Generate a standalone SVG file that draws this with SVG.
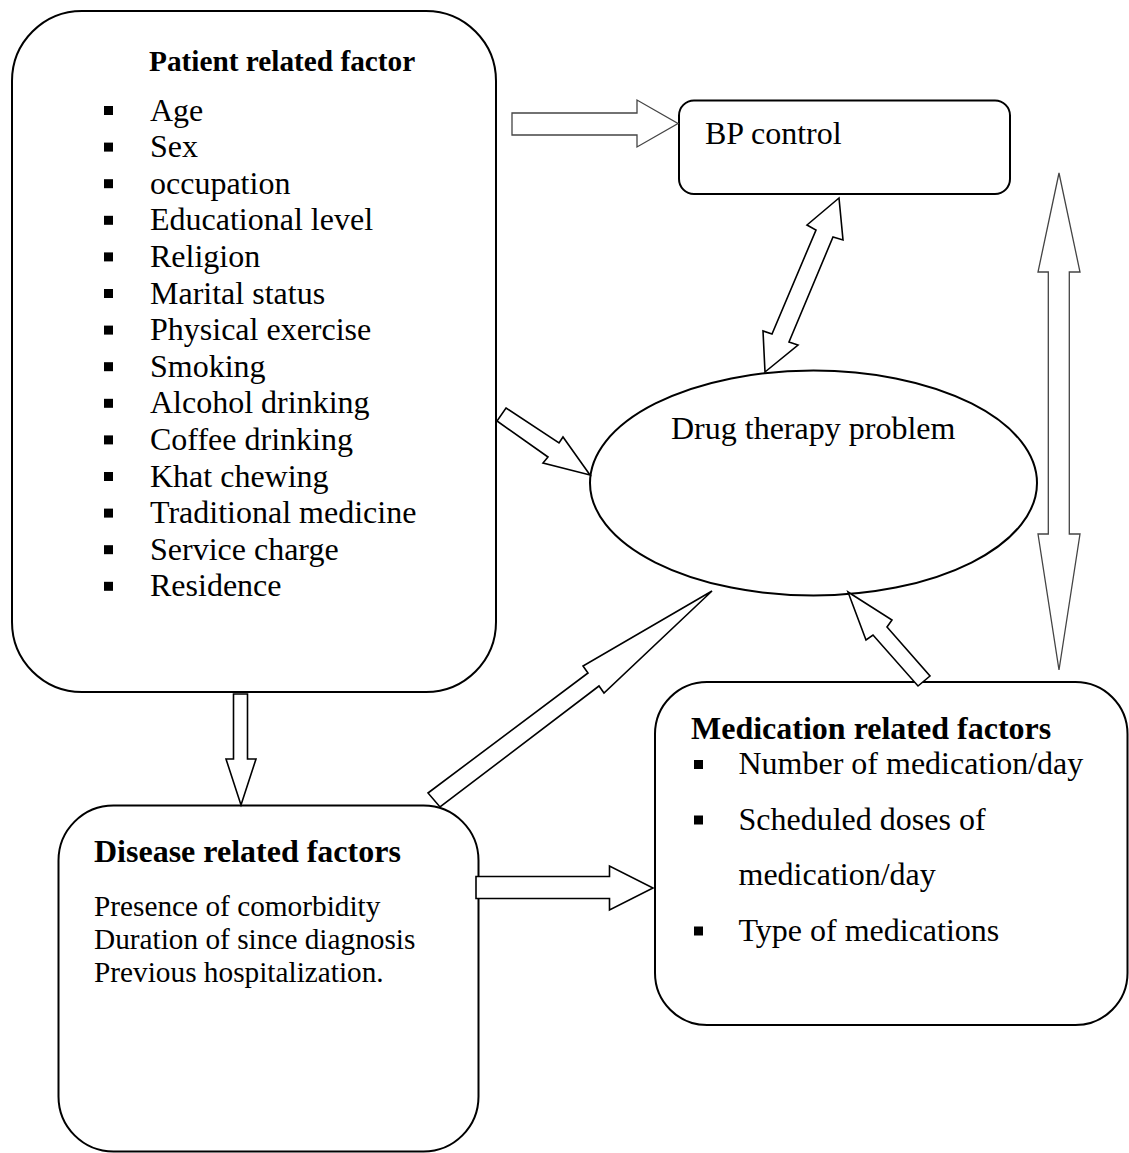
<svg xmlns="http://www.w3.org/2000/svg" width="1129" height="1153" viewBox="0 0 1129 1153">
<style>
.box{fill:#fff;stroke:#000;stroke-width:2}
.arr{fill:#fff;stroke:#000;stroke-width:1.6;stroke-linejoin:miter}
.arrg{fill:#fff;stroke:#444;stroke-width:1.3;stroke-linejoin:miter}
.t{font-family:"Liberation Serif","Times New Roman",serif;fill:#000}
.b{font-weight:bold}
.s32{font-size:32px}
.s29{font-size:29.3px}
.bul{fill:#000}
</style>
<rect width="1129" height="1153" fill="#fff"/>
<g id="patient">
<rect class="box" x="12" y="11" width="484" height="681" rx="70" ry="70"/>
<text class="t b s29" x="149" y="71">Patient related factor</text>
<g class="bul">
<rect x="104" y="106" width="9" height="9"/>
<rect x="104" y="142.6" width="9" height="9"/>
<rect x="104" y="179.2" width="9" height="9"/>
<rect x="104" y="215.8" width="9" height="9"/>
<rect x="104" y="252.4" width="9" height="9"/>
<rect x="104" y="289" width="9" height="9"/>
<rect x="104" y="325.6" width="9" height="9"/>
<rect x="104" y="362.2" width="9" height="9"/>
<rect x="104" y="398.8" width="9" height="9"/>
<rect x="104" y="435.4" width="9" height="9"/>
<rect x="104" y="472" width="9" height="9"/>
<rect x="104" y="508.6" width="9" height="9"/>
<rect x="104" y="545.2" width="9" height="9"/>
<rect x="104" y="581.8" width="9" height="9"/>
</g>
<text class="t s32" x="150">
<tspan x="150" y="120.5">Age</tspan>
<tspan x="150" y="157.1">Sex</tspan>
<tspan x="150" y="193.7">occupation</tspan>
<tspan x="150" y="230.3">Educational level</tspan>
<tspan x="150" y="266.9">Religion</tspan>
<tspan x="150" y="303.5">Marital status</tspan>
<tspan x="150" y="340.1">Physical exercise</tspan>
<tspan x="150" y="376.7">Smoking</tspan>
<tspan x="150" y="413.3">Alcohol drinking</tspan>
<tspan x="150" y="449.9">Coffee drinking</tspan>
<tspan x="150" y="486.5">Khat chewing</tspan>
<tspan x="150" y="523.1">Traditional medicine</tspan>
<tspan x="150" y="559.7">Service charge</tspan>
<tspan x="150" y="596.3">Residence</tspan>
</text>
</g>
<g id="bp">
<rect class="box" x="679" y="100.5" width="331" height="93.5" rx="15" ry="15"/>
<text class="t s32" x="705" y="144">BP control</text>
</g>
<g id="dtp">
<ellipse class="box" cx="813.5" cy="483" rx="223.5" ry="112.5"/>
<text class="t s32" x="671" y="439">Drug therapy problem</text>
</g>
<g id="medication">
<rect class="box" x="655" y="682" width="472.5" height="343" rx="52" ry="52"/>
<text class="t b s32" x="691" y="739">Medication related factors</text>
<g class="bul">
<rect x="694" y="760" width="9" height="9"/>
<rect x="694" y="815.5" width="9" height="9"/>
<rect x="694" y="926.5" width="9" height="9"/>
</g>
<text class="t s32">
<tspan x="738.5" y="774">Number of medication/day</tspan>
<tspan x="738.5" y="829.5">Scheduled doses of</tspan>
<tspan x="738.5" y="885">medication/day</tspan>
<tspan x="738.5" y="940.5">Type of medications</tspan>
</text>
</g>
<g id="disease">
<rect class="box" x="58.5" y="805.5" width="420" height="346" rx="55" ry="55"/>
<text class="t b s32" x="94" y="862">Disease related factors</text>
<text class="t s29">
<tspan x="94" y="915.5">Presence of comorbidity</tspan>
<tspan x="94" y="948.5">Duration of since diagnosis</tspan>
<tspan x="94" y="982">Previous hospitalization.</tspan>
</text>
</g>
<g id="connectors">
<polygon class="arrg" points="512,113 637,113 637,100 678,123.5 637,147 637,135 512,135"/>
<polygon class="arr" points="839,198 843,240 833,237 789,342 798,345 765,372 763,331 772,334 816,230 807,225"/>
<polygon class="arrg" points="1059,173 1080,272 1069.3,272 1069.3,534 1080,534 1059,670 1038,534 1048.3,534 1048.3,272 1038,272"/>
<polygon class="arr" points="506,408 559,443 563,437 590,475 543,463 548,457 497,421"/>
<polygon class="arr" points="428,793 588,673 583,666 712,591 604,693 599,686 440,807"/>
<polygon class="arr" points="848,592 892,620 887,627 930,676 918,686 873,635 866,640"/>
<polygon class="arr" points="233.5,694 247.5,694 247.5,759 256,759 241,805 226,759 233.5,759"/>
<polygon class="arr" points="476,876.5 609.5,876.5 609.5,866 653,888 609.5,910 609.5,898.5 476,898.5"/>
</g>
</svg>
